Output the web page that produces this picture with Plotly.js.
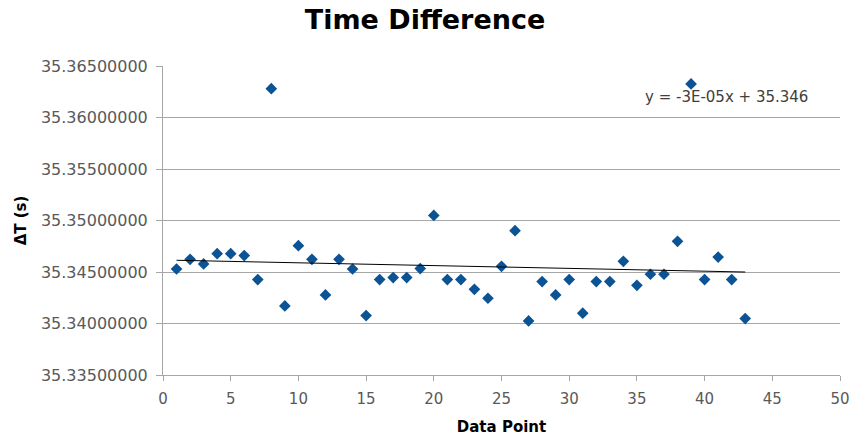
<!DOCTYPE html>
<html>
<head>
<meta charset="utf-8">
<script src="https://cdn.plot.ly/plotly-3.0.1.min.js"></script>
<style>html,body{margin:0;padding:0;background:#fff;}#chart{width:850px;height:439px;}</style>
</head>
<body>
<div id="chart"></div>
<script>
const dataPoints = [1,2,3,4,5,6,7,8,9,10,11,12,13,14,15,16,17,18,19,20,21,22,23,24,25,26,27,28,29,30,31,32,33,34,35,36,37,38,39,40,41,42,43];
const deltaT = [
  35.34529, 35.34623, 35.34578, 35.34678, 35.34678, 35.34659, 35.34426, 35.36280, 35.34171, 35.34756,
  35.34623, 35.34277, 35.34623, 35.34529, 35.34077, 35.34426, 35.34446, 35.34446, 35.34533, 35.35049,
  35.34426, 35.34426, 35.34332, 35.34245, 35.34555, 35.34901, 35.34025, 35.34407, 35.34277, 35.34426,
  35.34100, 35.34407, 35.34407, 35.34604, 35.34371, 35.34478, 35.34478, 35.34798, 35.36326, 35.34426,
  35.34645, 35.34426, 35.34048
];
const yTickVals = [35.335, 35.340, 35.345, 35.350, 35.355, 35.360, 35.365];
const equationText = "y = -3E-05x + 35.346";

// least-squares linear trendline derived from the data
const n = dataPoints.length;
const mx = dataPoints.reduce((a,b)=>a+b,0)/n;
const my = deltaT.reduce((a,b)=>a+b,0)/n;
let sxy = 0, sxx = 0;
for (let i=0;i<n;i++){ sxy += (dataPoints[i]-mx)*(deltaT[i]-my); sxx += (dataPoints[i]-mx)**2; }
const slope = sxy/sxx, intercept = my - slope*mx;
const trendX = [dataPoints[0], dataPoints[n-1]];
const trendY = trendX.map(x => intercept + slope*x);

const font = "DejaVu Sans, Verdana, sans-serif";
const traces = [
  {x: dataPoints, y: deltaT, type: 'scatter', mode: 'markers',
   marker: {symbol: 'diamond', size: 9, color: '#0b5394', line: {width: 0}}, showlegend: false},
  {x: trendX, y: trendY, type: 'scatter', mode: 'lines',
   line: {color: '#000000', width: 1}, showlegend: false}
];
const layout = {
  width: 850, height: 439,
  margin: {l: 163, r: 10, t: 66, b: 64},
  paper_bgcolor: '#ffffff', plot_bgcolor: '#ffffff',
  font: {family: font, color: '#595959', size: 14},
  title: {text: '<b>Time Difference</b>', x: 0.5, xanchor: 'center', y: 0.955, yanchor: 'middle',
          font: {family: font, size: 27, color: '#000000'}},
  xaxis: {range: [0, 50], dtick: 5, tick0: 0, showgrid: false, zeroline: false,
          showline: true, linecolor: '#a6a6a6', linewidth: 1,
          ticks: 'outside', ticklen: 5, tickcolor: '#a6a6a6', ticklabelstandoff: 5,
          tickfont: {family: font, size: 15, color: '#595959'},
          title: {text: '<b>Data Point</b>', standoff: 14, font: {family: font, size: 15, color: '#000000'}}},
  yaxis: {range: [35.335, 35.365], tickvals: yTickVals, tickformat: '.8f',
          showgrid: true, gridcolor: '#a6a6a6', gridwidth: 1, zeroline: false,
          showline: true, linecolor: '#a6a6a6', linewidth: 1,
          ticks: 'outside', ticklen: 6, tickcolor: '#a6a6a6', ticklabelstandoff: 5,
          tickfont: {family: font, size: 16, color: '#595959'},
          title: {text: '<b>ΔT (s)</b>', standoff: 10, font: {family: font, size: 15, color: '#000000'}}},
  annotations: [{text: equationText, xref: 'paper', yref: 'paper', x: 0.832, y: 0.90,
                 xanchor: 'center', yanchor: 'middle', showarrow: false,
                 font: {family: font, size: 15, color: '#404040'}}]
};
Plotly.newPlot('chart', traces, layout, {displayModeBar: false, staticPlot: true});
</script>
</body>
</html>
